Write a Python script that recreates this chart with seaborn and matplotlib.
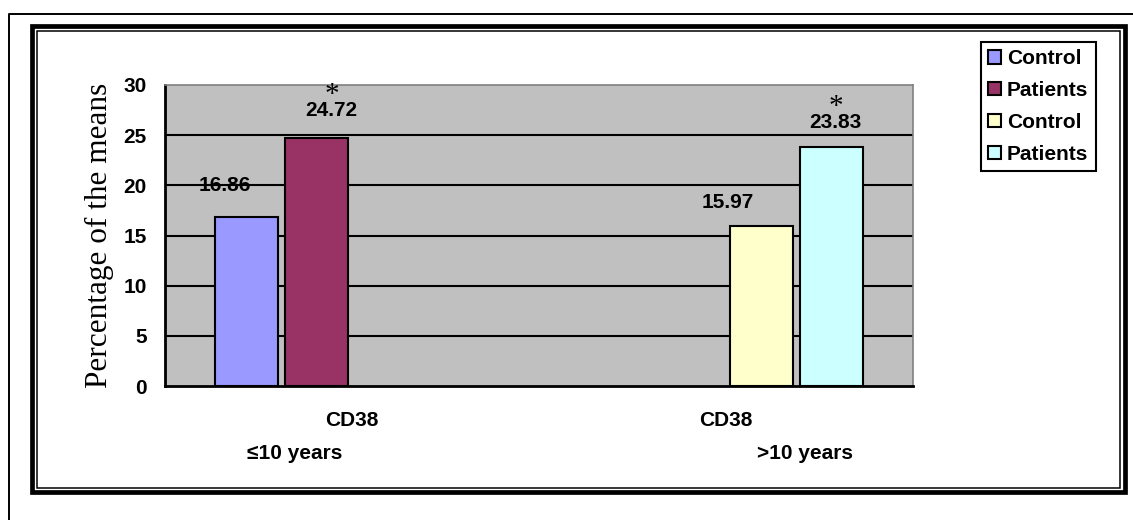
import numpy as np
import pandas as pd
import matplotlib
matplotlib.use("Agg")
import matplotlib.pyplot as plt
import matplotlib.transforms as mtransforms
from matplotlib.lines import Line2D
from matplotlib.patches import Rectangle
import seaborn as sns

# Data
groups = ["≤10 years", ">10 years"]
series = ["Control ≤10", "Patients ≤10", "Control >10", "Patients >10"]
legend_labels = ["Control", "Patients", "Control", "Patients"]
series_group = ["≤10 years", "≤10 years", ">10 years", ">10 years"]
values = [16.86, 24.72, 15.97, 23.83]
significant = [False, True, False, True]
tick_labels = ["CD38", "CD38"]
colors = ["#9999FF", "#993366", "#FFFFCC", "#CCFFFF"]

df = pd.DataFrame({"group": series_group, "series": series, "value": values})

# label offsets from the bar top (pixels), the labels are hand placed in the original
label_dx = [-22, 14, -33, 4]
label_dy = [31, 27, 23, 24]

sns.set_style("white")
plt.rcParams["font.family"] = ["Liberation Sans", "DejaVu Sans"]
plt.rcParams["font.weight"] = "bold"
for key in ["text.color", "axes.labelcolor", "xtick.color", "ytick.color"]:
    plt.rcParams[key] = "black"

FS = 15

W, H = 1133, 520
fig = plt.figure(figsize=(W / 100, H / 100), dpi=100)
ax = fig.add_axes([165 / W, 1 - 386 / H, (913 - 165) / W, (386 - 85) / H])

sns.barplot(data=df, x="group", y="value", hue="series", order=groups, hue_order=series,
            palette=dict(zip(series, colors)), width=0.75, gap=0.1, saturation=1,
            edgecolor="black", linewidth=1.5, errorbar=None, ax=ax)

ax.set_facecolor("#C0C0C0")
ax.set_xlim(-0.5, 1.5)
ax.set_ylim(0, 30)
ax.set_yticks(range(0, 31, 5))
ax.yaxis.grid(True, color="black", linewidth=1.5)
ax.set_axisbelow(True)
for gl, v in zip(ax.get_ygridlines(), range(0, 31, 5)):
    if v in (0, 30):
        gl.set_visible(False)

for side in ["left", "bottom"]:
    ax.spines[side].set_color("black")
    ax.spines[side].set_linewidth(2)
for side in ["top", "right"]:
    ax.spines[side].set_color("#808080")
    ax.spines[side].set_linewidth(1.2)

ax.tick_params(axis="y", direction="out", length=6, width=1.5, pad=7, labelsize=FS, color="black")
ax.set_xticks([0, 1], tick_labels)
ax.set_xticks([-0.5, 0.5, 1.5], minor=True)
ax.tick_params(axis="x", which="major", length=0, pad=18, labelsize=FS)
ax.tick_params(axis="x", which="minor", direction="out", length=5, width=1.5, color="black")
for t in ax.get_xticklabels() + ax.get_yticklabels():
    t.set_fontweight("bold")

ax.set_xlabel("")
ax.set_ylabel("Percentage of the means", family=["Liberation Serif", "DejaVu Serif"],
              fontweight="normal", fontsize=22.5, labelpad=7)

# second line of category labels
trans = mtransforms.blended_transform_factory(ax.transData, ax.transAxes)
ax.text(-0.152, -0.223, groups[0], transform=trans, ha="center", va="center", fontsize=FS, fontweight="bold")
ax.text(1.211, -0.223, groups[1], transform=trans, ha="center", va="center", fontsize=FS, fontweight="bold")

# value labels and significance marks
for i, cont in enumerate(ax.containers):
    for bar in cont:
        h = bar.get_height()
        if np.isnan(h) or h == 0:
            continue
        cx = bar.get_x() + bar.get_width() / 2
        ax.annotate(f"{h:.2f}", (cx, h), xytext=(label_dx[i], label_dy[i]), textcoords="offset pixels",
                    ha="center", va="center", fontsize=FS, fontweight="bold")
        if significant[i]:
            ax.annotate("*", (cx, h), xytext=(label_dx[i] + 1, label_dy[i] + 3), textcoords="offset pixels",
                        ha="center", va="bottom", fontsize=21, fontweight="normal",
                        family=["Liberation Serif", "DejaVu Serif"])

# legend
handles, _ = ax.get_legend_handles_labels()
for hd in handles:
    hd.set_edgecolor("black")
    hd.set_linewidth(1.5)
leg = ax.legend(handles, legend_labels, loc="upper left", bbox_to_anchor=(981 / W, 1 - 42 / H),
                bbox_transform=fig.transFigure, frameon=True, fancybox=False, framealpha=1,
                edgecolor="black", fontsize=FS, handlelength=0.6, handleheight=0.6,
                handletextpad=0.3, labelspacing=0.62, borderpad=0.35, borderaxespad=0)
leg.get_frame().set_linewidth(1.5)
for t in leg.get_texts():
    t.set_fontweight("bold")

# frames around the chart
def fx(px):
    return px / W

def fy(py):
    return 1 - py / H

fig.add_artist(Line2D([fx(8.5), fx(8.5), fx(1133)], [fy(520), fy(13.5), fy(13.5)],
                      color="black", linewidth=1.4, transform=fig.transFigure))
fig.add_artist(Rectangle((fx(32.2), fy(492)), fx(1124.5) - fx(32.2), (492 - 25.7) / H,
                         fill=False, edgecolor="black", linewidth=3.4, transform=fig.transFigure))
fig.add_artist(Rectangle((fx(36.8), fy(487.5)), fx(1119.8) - fx(36.8), (487.5 - 31) / H,
                         fill=False, edgecolor="black", linewidth=1.1, transform=fig.transFigure))

fig.savefig("out.png", dpi=100)
